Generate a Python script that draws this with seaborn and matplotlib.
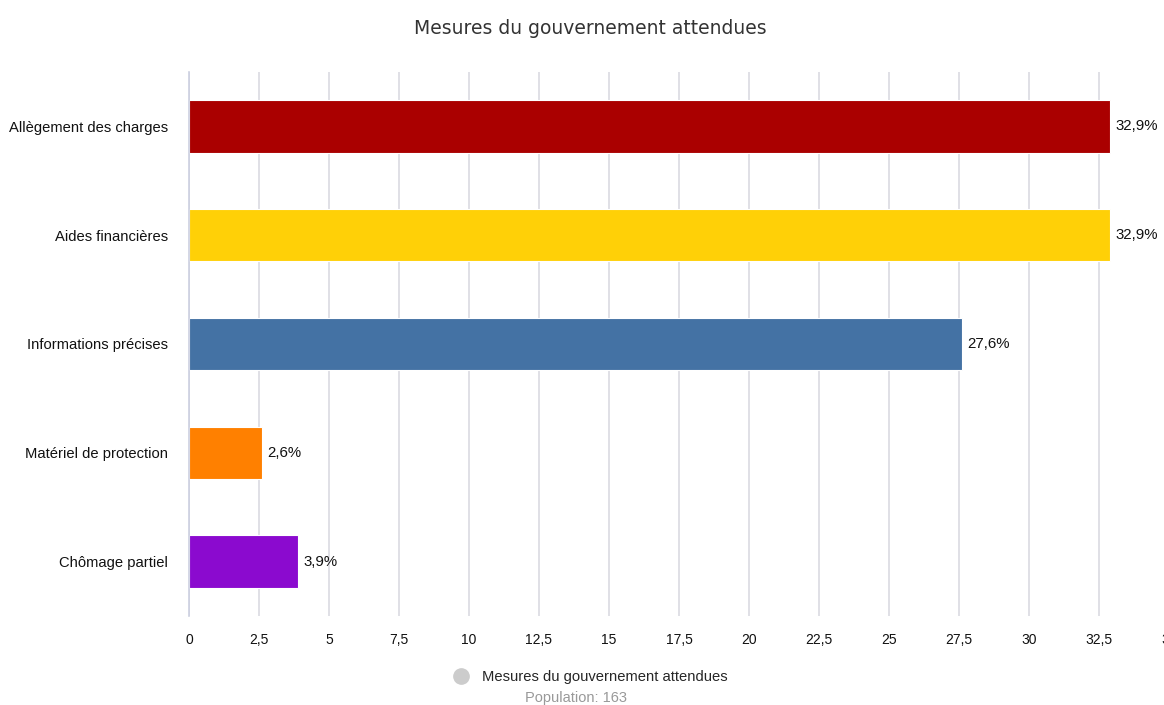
import matplotlib
matplotlib.use("Agg")
import matplotlib.pyplot as plt
import seaborn as sns
import pandas as pd
from matplotlib.lines import Line2D

categories = ["Allègement des charges", "Aides financières", "Informations précises",
              "Matériel de protection", "Chômage partiel"]
values = [32.9, 32.9, 27.6, 2.6, 3.9]
colors = ["#AA0000", "#FFD007", "#4472A4", "#FF8000", "#8B0ACF"]
xticks = [0, 2.5, 5, 7.5, 10, 12.5, 15, 17.5, 20, 22.5, 25, 27.5, 30, 32.5, 35]
title = "Mesures du gouvernement attendues"
legend_label = "Mesures du gouvernement attendues"
population = "Population: 163"

sns.set_theme(style="white")
plt.rcParams['font.family'] = ['Liberation Sans', 'DejaVu Sans']

df = pd.DataFrame({"cat": categories, "val": values})

fig = plt.figure(figsize=(11.64, 7.05), dpi=100)
ax = fig.add_axes([189/1164, 1 - 616/705, (1169 - 189)/1164, (616 - 72)/705])

sns.barplot(data=df, y="cat", x="val", hue="cat", palette=colors, order=categories,
            hue_order=categories, orient="h", width=0.48, legend=False, ax=ax,
            saturation=1, edgecolor="white", linewidth=0.8)

ax.set_xlim(0, 35)
ax.set_ylim(4.5, -0.5)
ax.set_xticks(xticks)
ax.set_xticklabels([f"{t:g}".replace(".", ",") for t in xticks], fontsize=10, color="#111111")
ax.tick_params(axis="y", labelsize=10.6, colors="#111111", length=0, pad=15)
ax.tick_params(axis="x", length=0, pad=12)
ax.set_xlabel("")
ax.set_ylabel("")
ax.grid(axis="x", color="#DADAE2", linewidth=1.2)
ax.set_axisbelow(True)
for s in ["top", "right", "bottom"]:
    ax.spines[s].set_visible(False)
ax.spines["left"].set_color("#CCD0E0")
ax.spines["left"].set_linewidth(1.2)

for i, v in enumerate(values):
    ax.text(v + 0.2, i, f"{v:.1f}%".replace(".", ","), va="center", ha="left",
            fontsize=10.8, color="#111111")

fig.text(590/1164, 1 - 28/705, title, ha="center", va="center", fontsize=13.5,
         color="#333333", family=["DejaVu Sans"])

fig.legend(handles=[Line2D([0], [0], marker="o", linestyle="", markersize=11,
                           markerfacecolor="#CCCCCC", markeredgecolor="#CCCCCC")],
           labels=[legend_label], loc="center", bbox_to_anchor=(587/1164, 1 - 677/705),
           frameon=False, fontsize=10.6, handletextpad=0.4, borderaxespad=0)
fig.text(576/1164, 1 - 698/705, population, ha="center", va="center", fontsize=10.5,
         color="#999999")

fig.savefig("out.png", dpi=100)
